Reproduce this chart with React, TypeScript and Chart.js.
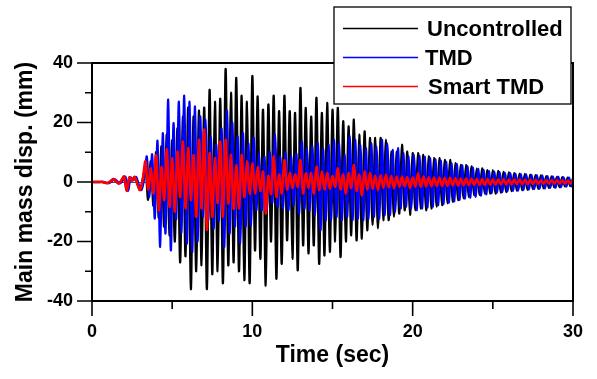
import React, { useEffect, useRef } from "react";
import { Chart, registerables } from "chart.js";

Chart.register(...registerables);

// time between successive samples (one extremum of the response every 1/6 s)
const SAMPLE_STEP = 1 / 6;
// the TMD response lags the uncontrolled one slightly
const TMD_OFFSET = 1 / 12;

// Main mass displacement (mm), one row per second, 6 samples per row
const uncontrolled = [
  0, 0, 0, 0, 0, -0.3,
  -0.3, 0.3, 1.0, 0.2, -0.5, 0.5,
  1.8, -3.0, 1.5, 0.5, 1.7, -0.8,
  -2.7, 1.0, 5, -6, 7, -8,
  10, -12, 12, -15, 16, -18,
  14, -20, 18, -27, 22, -25,
  25, -36, 22, -30, 24, -28,
  25, -36, 31, -31, 27, -30,
  28, -34, 38, -28, 30, -27,
  35, -30, 29, -33, 27, -34,
  35.6, -23, 28.8, -25.8, 24.3, -34.8,
  26, -20, 29, -32.5, 23.8, -27.5,
  29, -19.6, 23.8, -25.8, 23.2, -29.7,
  31.6, -21.3, 24.9, -24, 22, -21.3,
  28.3, -27.5, 23.2, -24.7, 26.6, -23.5,
  24.3, -20, 24.9, -25.2, 20.4, -20,
  18.7, -17.9, 21, -19.6, 15.9, -19,
  17, -16.2, 14.8, -14.5, 14.8, -15.6,
  14.8, -12.8, 14.2, -12.8, 10.2, -11.7,
  10.2, -10.6, 12.5, -9.5, 10.2, -11,
  9.7, -9.5, 9.7, -8.9, 9.1, -9.5,
  8.6, -8.9, 8.0, -8.3, 8.0, -7.8,
  7.4, -7.2, 7.4, -6.6, 6.3, -6.1,
  5.7, -5.5, 5.7, -5.0, 5.2, -4.4,
  4.6, -4.4, 4.6, -3.8, 4.0, -4.0,
  4.0, -3.9, 3.7, -3.6, 3.4, -3.4,
  3.2, -3.1, 3.0, -2.9, 2.8, -2.8,
  2.7, -2.6, 2.5, -2.4, 2.3, -2.3,
  2.2, -2.1, 2.0, -2.0, 1.9, -1.8,
  1.7, -1.7, 1.6, -1.5, 1.5, -1.4,
  1.3,
];

const tmd = [
  0, 0, 0, 0, 0, -0.3,
  -0.3, 0.3, 1.0, 0.2, -0.5, 0.5,
  1.8, -3.0, 1.5, 0.5, 1.7, -0.8,
  -2.7, 1.0, 8.6, -5, 9.3, -12.3,
  13.9, -21.8, 16.4, -17.3, 27.7, -23,
  19.8, -12.5, 27, -17, 29, -20.7,
  27, -23.5, 25.4, -20, 22, -11.7,
  21, -12.8, 15, -15.6, 12.5, -13,
  18, -21.8, 24, -17.3, 20, -15,
  15.3, -20.7, 16.4, -15, 13, -14.5,
  14.8, -9.5, 10, -9.5, 8.6, -9,
  10, -7, 15.9, -8.3, 8.6, -9,
  10, -9.5, 8.6, -8, 9.5, -10.6,
  13.6, -9, 11.3, -9.5, 12, -11,
  13, -16.2, 11, -13, 12.5, -12.8,
  14.2, -11.7, 13, -12.8, 9.1, -11.7,
  15.3, -12.8, 14.2, -12.3, 12.5, -12.8,
  11.4, -12.3, 13, -11.7, 11.9, -12.3,
  14.2, -11.1, 13, -11.1, 10.8, -10,
  11.4, -8.9, 9.7, -8.3, 8.6, -8.9,
  9.1, -9.5, 8.8, -8.9, 8.5, -8.6,
  8.0, -8.3, 7.6, -7.8, 7.2, -7.4,
  6.8, -7.0, 6.3, -6.5, 6.0, -6.0,
  5.6, -5.6, 5.2, -5.3, 4.8, -5.0,
  4.4, -4.6, 4.0, -4.2, 3.7, -3.8,
  3.5, -3.6, 3.3, -3.4, 3.1, -3.2,
  3.0, -3.0, 2.8, -2.9, 2.7, -2.7,
  2.6, -2.6, 2.4, -2.4, 2.3, -2.3,
  2.2, -2.2, 2.0, -2.0, 1.9, -1.9,
  1.8, -1.8, 1.6, -1.6, 1.5, -1.5,
  1.4,
];

const smartTmd = [
  0, 0, 0, 0, 0, -0.3,
  -0.3, 0.3, 1.0, 0.2, -0.5, 0.5,
  1.8, -3.0, 1.5, 0.5, 1.7, -0.8,
  -2.7, 1.0, 6.9, -2.5, 4.6, -3.8,
  9, -9.5, 5, -6, 11, -8.3,
  8, -10, 10.2, -5, 13.6, -8.9,
  11.4, -6, 9, -11.7, 14.2, -8.9,
  17.6, -16, 9.7, -11.7, 8, -7,
  13.6, -11.7, 14.2, -7.2, 9.1, -9,
  5.7, -8.9, 9.1, -5, 6.9, -4,
  6.3, -3.8, 5, -3, 3.5, -10.6,
  2, -4, 8.6, -5, 2.5, -3.8,
  7.4, -2.5, 3, -2, 2.5, -1.6,
  7.4, -3.8, 2.9, -2, 3, -3.8,
  5.2, -2.7, 3.5, -2.5, 3, -2.2,
  2, -1.6, 4.6, -2.5, 2.5, -3.8,
  3, -2, 5.7, -3, 2.5, -4.4,
  3.5, -2.5, 3, -2.2, 2, -2.7,
  2.2, -2, 2.4, -1.8, 2, -2.1,
  1.8, -1.6, 1.8, -1.5, 1.6, -2.1,
  1.5, -1.5, 2.9, -1.6, 1.8, -1.5,
  1.6, -1.4, 1.5, -1.4, 1.5, -1.3,
  1.4, -1.3, 1.4, -1.2, 1.3, -1.2,
  1.2, -1.1, 1.2, -1.1, 1.1, -1.0,
  1.1, -1.0, 1.0, -1.0, 1.0, -0.9,
  0.9, -0.9, 0.9, -0.8, 0.9, -0.8,
  0.8, -0.8, 0.8, -0.7, 0.8, -0.7,
  0.7, -0.7, 0.7, -0.6, 0.7, -0.6,
  0.6, -0.6, 0.6, -0.6, 0.6, -0.5,
  0.6, -0.5, 0.5, -0.5, 0.5, -0.5,
  0.5,
];

const seriesLabels = ["Uncontrolled", "TMD", "Smart TMD"];
const seriesColors = ["#000000", "#0000ff", "#ff0000"];

const X_MIN = 0;
const X_MAX = 30;
const X_STEP = 5;
const X_LABEL_EVERY = 10;
const Y_MIN = -40;
const Y_MAX = 40;
const Y_STEP = 10;
const Y_LABEL_EVERY = 20;

const FONT = "'Liberation Sans', Arial, Helvetica, sans-serif";

function toPoints(values: number[], offset: number) {
  return values.map((y, i) => ({ x: i * SAMPLE_STEP + offset, y }));
}

const frameTicksPlugin = {
  id: "frameTicks",
  afterDatasetsDraw(chart: any) {
    const { ctx, chartArea, scales } = chart;
    const { left, right, top, bottom } = chartArea;
    ctx.save();
    ctx.strokeStyle = "#000";
    ctx.lineWidth = 2;
    ctx.strokeRect(left, top, right - left, bottom - top);
    ctx.lineWidth = 1.6;
    ctx.beginPath();
    for (let v = X_MIN; v <= X_MAX; v += X_STEP) {
      const px = scales.x.getPixelForValue(v);
      const len = v % X_LABEL_EVERY === 0 ? 15 : 8;
      ctx.moveTo(px, bottom);
      ctx.lineTo(px, bottom + len);
    }
    for (let v = Y_MIN; v <= Y_MAX; v += Y_STEP) {
      const py = scales.y.getPixelForValue(v);
      const len = v % Y_LABEL_EVERY === 0 ? 15 : 7;
      ctx.moveTo(left, py);
      ctx.lineTo(left - len, py);
    }
    ctx.stroke();
    ctx.restore();
  },
};

const legendBoxPlugin = {
  id: "legendBox",
  afterDraw(chart: any) {
    const { ctx } = chart;
    const bx = 334, by = 7, bw = 237, bh = 97;
    ctx.save();
    ctx.fillStyle = "#fff";
    ctx.fillRect(bx, by, bw, bh);
    ctx.strokeStyle = "#000";
    ctx.lineWidth = 1.3;
    ctx.strokeRect(bx, by, bw, bh);
    const rows = [28.5, 57.5, 86.5];
    const textX = [427, 425, 428];
    ctx.font = `bold 22px ${FONT}`;
    ctx.textBaseline = "middle";
    ctx.textAlign = "left";
    chart.data.datasets.forEach((ds: any, i: number) => {
      ctx.strokeStyle = ds.borderColor;
      ctx.lineWidth = 1.5;
      ctx.beginPath();
      ctx.moveTo(343, rows[i]);
      ctx.lineTo(418, rows[i]);
      ctx.stroke();
      ctx.fillStyle = "#000";
      ctx.fillText(ds.label, textX[i], rows[i] + 1.5);
    });
    ctx.restore();
  },
};

export default function App() {
  const canvasRef = useRef<HTMLCanvasElement | null>(null);

  useEffect(() => {
    const canvas = canvasRef.current;
    if (!canvas) return;
    const offsets = [0, TMD_OFFSET, 0];
    const series = [uncontrolled, tmd, smartTmd];
    const widths = [2.3, 2.2, 2.6];
    const orders = [3, 2, 1];
    const chart = new Chart(canvas, {
      type: "line",
      data: {
        datasets: series.map((vals, i) => ({
          label: seriesLabels[i],
          data: toPoints(vals, offsets[i]),
          borderColor: seriesColors[i],
          backgroundColor: seriesColors[i],
          borderWidth: widths[i],
          borderJoinStyle: "round" as const,
          pointRadius: 0,
          tension: 0.3,
          fill: false,
          order: orders[i],
        })),
      },
      options: {
        responsive: false,
        animation: false,
        events: [],
        layout: { padding: { top: 63, right: 24, left: 0, bottom: 0 } },
        plugins: {
          legend: { display: false },
          tooltip: { enabled: false },
          title: { display: false },
        },
        scales: {
          x: {
            type: "linear",
            min: X_MIN,
            max: X_MAX,
            afterFit: (scale: any) => {
              scale.height = 78;
            },
            border: { display: true, color: "#000", width: 2 },
            grid: {
              display: true,
              drawOnChartArea: false,
              drawTicks: true,
              tickLength: 15,
              tickColor: "rgba(0,0,0,0)",
              color: "rgba(0,0,0,0)",
            },
            ticks: {
              stepSize: X_STEP,
              autoSkip: false,
              maxRotation: 0,
              padding: 5,
              color: "#000",
              font: { family: FONT, size: 18, weight: "bold" },
              callback: (v: any) => (Number(v) % X_LABEL_EVERY === 0 ? String(v) : ""),
            },
            title: {
              display: true,
              text: "Time (sec)",
              color: "#000",
              font: { family: FONT, size: 23, weight: "bold" },
              padding: { top: 0, bottom: 10 },
            },
          },
          y: {
            type: "linear",
            min: Y_MIN,
            max: Y_MAX,
            afterFit: (scale: any) => {
              scale.width = 92;
            },
            border: { display: true, color: "#000", width: 2 },
            grid: {
              display: true,
              drawOnChartArea: true,
              drawTicks: true,
              tickLength: 15,
              tickColor: "rgba(0,0,0,0)",
              lineWidth: 1,
              color: (c: any) =>
                c.tick && c.tick.value === 0 ? "rgba(40,40,40,0.8)" : "rgba(0,0,0,0)",
            },
            ticks: {
              stepSize: Y_STEP,
              autoSkip: false,
              padding: 4,
              color: "#000",
              font: { family: FONT, size: 18, weight: "bold" },
              callback: (v: any) => (Number(v) % Y_LABEL_EVERY === 0 ? String(v) : ""),
            },
            title: {
              display: true,
              text: "Main mass disp. (mm)",
              color: "#000",
              font: { family: FONT, size: 23, weight: "bold" },
              padding: { top: 12, bottom: 0 },
            },
          },
        },
      },
      plugins: [frameTicksPlugin, legendBoxPlugin],
    } as any);
    return () => chart.destroy();
  }, []);

  return (
    <div style={{ position: "absolute", left: 0, top: 0, width: 597, height: 379, background: "#fff" }}>
      <canvas ref={canvasRef} width={597} height={379} style={{ display: "block" }} />
    </div>
  );
}
